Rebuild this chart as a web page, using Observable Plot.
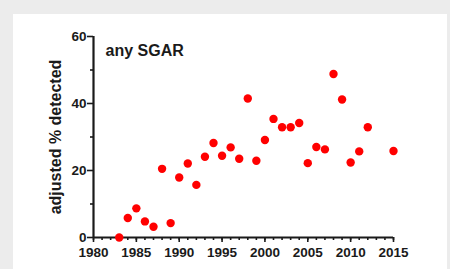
<!DOCTYPE html>
<html>
<head>
<meta charset="utf-8">
<script src="https://cdn.jsdelivr.net/npm/d3@7"></script>
<script src="https://cdn.jsdelivr.net/npm/@observablehq/plot@0.6"></script>
<style>
  html, body { margin: 0; padding: 0; background: #ececec; width: 450px; height: 269px; overflow: hidden; }
  #panel { position: absolute; left: 13px; top: 14px; width: 434px; height: 255px; background: #fff; }
  #panel svg { display: block; }
</style>
</head>
<body>
<div id="panel"></div>
<script>
const years = [1983,1984,1985,1986,1987,1988,1989,1990,1991,1992,1993,1994,1995,1996,1997,1998,1999,2000,2001,2002,2003,2004,2005,2006,2007,2008,2009,2010,2011,2012,2015];
const detected = [0,5.8,8.7,4.8,3.2,20.5,4.3,17.9,22.1,15.7,24.1,28.2,24.4,26.9,23.5,41.5,22.9,29.1,35.4,32.9,32.9,34.2,22.2,27.0,26.3,48.8,41.2,22.4,25.7,32.9,25.8];
const xMajorTicks = [1980,1985,1990,1995,2000,2005,2010,2015];
const xMinorTicks = d3.range(1980, 2016);
const yMajorTicks = [0,20,40,60];
const yMinorTicks = [10,30,50];
const panelTitle = "any SGAR";
const yLabel = "adjusted % detected";

const data = years.map((y, i) => ({year: y, value: detected[i]}));
const font = "Liberation Sans, Arial, sans-serif";
const ink = "#1a1a1a";

const chart = Plot.plot({
  width: 434,
  height: 255,
  marginLeft: 80,
  marginRight: 54,
  marginTop: 22,
  marginBottom: 32,
  style: {fontFamily: font, fontWeight: "bold", color: ink, background: "#fff", overflow: "visible"},
  x: {domain: [1980, 2015], label: null},
  y: {domain: [0, 60], label: null},
  marks: [
    Plot.axisX({ticks: xMinorTicks, tickSize: 3, text: null, label: null, stroke: ink, strokeWidth: 1.6}),
    Plot.axisX({ticks: xMajorTicks, tickSize: 5, tickPadding: 5, tickFormat: d => String(d), label: null, stroke: ink, strokeWidth: 1.6, fontSize: 13.5, fontWeight: "bold", fill: ink}),
    Plot.axisY({ticks: yMinorTicks, tickSize: 3, text: null, label: null, stroke: ink, strokeWidth: 1.6}),
    Plot.axisY({ticks: yMajorTicks, tickSize: 6, tickPadding: 1, label: null, stroke: ink, strokeWidth: 1.6, fontSize: 13.5, fontWeight: "bold", fill: ink}),
    Plot.ruleY([0], {stroke: ink, strokeWidth: 2.2}),
    Plot.ruleX([1980], {stroke: ink, strokeWidth: 2.2}),
    Plot.text([yLabel], {frameAnchor: "left", dx: -38, rotate: -90, textAnchor: "middle", fontSize: 16, fontWeight: "bold", fill: ink}),
    Plot.text([panelTitle], {frameAnchor: "top-left", dx: 12, dy: 14, textAnchor: "start", lineAnchor: "middle", fontSize: 16, fontWeight: "bold", fill: ink}),
    Plot.dot(data, {x: "year", y: "value", r: 4.2, fill: "#ff0000", stroke: "none"})
  ]
});
document.getElementById("panel").appendChild(chart);
</script>
</body>
</html>
